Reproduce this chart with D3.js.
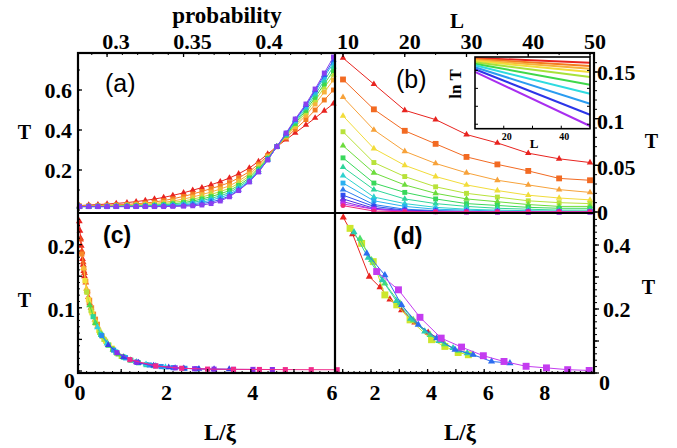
<!DOCTYPE html>
<html>
<head>
<meta charset="utf-8">
<script src="https://cdn.jsdelivr.net/npm/d3@7"></script>
<style>
  body { margin: 0; background: #fff; }
  text { font-family: "Liberation Serif", "Times New Roman", serif; font-weight: bold; fill: #000; }
  .plab { font-family: "Liberation Sans", Arial, sans-serif; }
</style>
</head>
<body>
<div id="chart"></div>
<script>
// ---- data ----
// (a) T vs probability, one series per system size L = 10..50
var probability = [0.282,0.288,0.294,0.300,0.306,0.313,0.319,0.325,0.331,0.337,0.343,0.350,0.356,0.362,
                   0.368,0.374,0.380,0.386,0.393,0.399,0.405,0.411,0.417,0.423,0.430,0.436,0.442,0.448];
var tA = [
  [0.022,0.025,0.027,0.030,0.033,0.037,0.042,0.048,0.055,0.063,0.073,0.086,0.099,0.112,0.126,0.142,0.160,0.181,0.210,0.243,0.280,0.317,0.352,0.386,0.425,0.460,0.496,0.532],
  [0.020,0.021,0.022,0.024,0.026,0.028,0.031,0.035,0.040,0.047,0.056,0.068,0.080,0.093,0.107,0.121,0.137,0.160,0.192,0.230,0.272,0.317,0.360,0.404,0.452,0.500,0.550,0.600],
  [0.019,0.019,0.020,0.021,0.022,0.024,0.026,0.029,0.033,0.038,0.045,0.055,0.065,0.077,0.090,0.105,0.121,0.145,0.180,0.220,0.266,0.317,0.366,0.417,0.474,0.530,0.590,0.650],
  [0.018,0.018,0.019,0.019,0.020,0.021,0.023,0.025,0.028,0.032,0.038,0.045,0.054,0.065,0.078,0.092,0.108,0.133,0.170,0.212,0.262,0.317,0.370,0.425,0.487,0.548,0.612,0.675],
  [0.018,0.018,0.018,0.018,0.019,0.020,0.021,0.022,0.024,0.027,0.031,0.037,0.045,0.055,0.067,0.081,0.097,0.123,0.160,0.205,0.258,0.317,0.374,0.433,0.498,0.563,0.630,0.697],
  [0.017,0.017,0.017,0.018,0.018,0.019,0.019,0.020,0.022,0.024,0.027,0.031,0.038,0.047,0.058,0.071,0.087,0.114,0.152,0.199,0.255,0.317,0.377,0.440,0.508,0.577,0.647,0.717],
  [0.017,0.017,0.017,0.017,0.018,0.018,0.018,0.019,0.020,0.021,0.023,0.026,0.031,0.039,0.049,0.062,0.078,0.106,0.146,0.194,0.252,0.317,0.380,0.447,0.518,0.590,0.664,0.737],
  [0.017,0.017,0.017,0.017,0.017,0.017,0.017,0.018,0.018,0.019,0.020,0.022,0.026,0.032,0.040,0.052,0.070,0.100,0.142,0.191,0.250,0.317,0.382,0.451,0.524,0.598,0.674,0.750],
  [0.017,0.017,0.017,0.017,0.017,0.017,0.017,0.017,0.017,0.017,0.018,0.019,0.021,0.025,0.032,0.045,0.066,0.097,0.140,0.190,0.250,0.317,0.385,0.455,0.530,0.605,0.685,0.765]
];

// (b) T vs L, one series per probability
var sizesL = [10,15,20,25,30,35,40,45,50];
var tB = [
  [0.165,0.137,0.109,0.099,0.083,0.074,0.063,0.057,0.053],
  [0.142,0.110,0.087,0.073,0.059,0.051,0.044,0.036,0.034],
  [0.123,0.088,0.065,0.052,0.042,0.034,0.029,0.024,0.021],
  [0.103,0.068,0.050,0.038,0.029,0.023,0.018,0.015,0.013],
  [0.086,0.053,0.038,0.027,0.020,0.016,0.012,0.010,0.009],
  [0.071,0.042,0.029,0.020,0.014,0.011,0.008,0.006,0.006],
  [0.058,0.031,0.021,0.014,0.009,0.007,0.005,0.004,0.004],
  [0.048,0.024,0.014,0.009,0.006,0.004,0.003,0.002,0.002],
  [0.039,0.016,0.009,0.005,0.003,0.002,0.0014,0.001,0.0007],
  [0.031,0.012,0.006,0.003,0.002,0.001,0.0007,0.0005,0.0004],
  [0.024,0.008,0.003,0.0015,0.0008,0.0005,0.0003,0.0002,0.0001],
  [0.018,0.006,0.002,0.001,0.0005,0.0003,0.0002,0.0001,0.0001],
  [0.014,0.004,0.0015,0.0006,0.0003,0.0002,0.0001,0.0001,0.0001],
  [0.011,0.003,0.001,0.0004,0.0002,0.0001,0.0001,0.0001,0.0001],
  [0.0086,0.003,0.0008,0.0003,0.0001,0.0001,0.0001,0.0001,0.0001],
  [0.0068,0.001,0.0003,0.0001,0.0001,0.0001,0.0001,0.0001,0.0001]
];

// (b) inset: ln T at L = 10 and L = 50
var insetL = [10, 50];
var insetLnT = [
  [-1.61,-2.14],[-1.72,-2.50],[-1.83,-2.81],[-1.95,-3.17],[-2.09,-3.73],
  [-2.25,-4.59],[-2.43,-5.59],[-2.65,-6.71],[-2.87,-7.94],[-3.17,-9.20]
];

// (c) scaling collapse T vs L/xi
var xiC = [
  [0.03,0.045,0.06,0.075,0.09,0.105,0.12,0.135,0.15],
  [0.06,0.09,0.12,0.15,0.18,0.21,0.24,0.27,0.30],
  [0.09,0.135,0.18,0.225,0.27,0.315,0.36,0.405,0.45],
  [0.13,0.195,0.26,0.325,0.39,0.455,0.52,0.585,0.65],
  [0.16,0.24,0.32,0.40,0.48,0.56,0.64,0.72,0.80],
  [0.2,0.3,0.4,0.5,0.6,0.7,0.8,0.9,1.0],
  [0.27,0.405,0.54,0.675,0.81,0.945,1.08,1.215,1.35],
  [0.35,0.525,0.7,0.875,1.05,1.225,1.4,1.575,1.75],
  [0.45,0.675,0.9,1.125,1.35,1.575,1.8,2.025,2.25],
  [0.55,0.825,1.1,1.375,1.65,1.925,2.2,2.475,2.75],
  [0.7,1.05,1.4,1.75,2.1,2.45,2.8,3.15,3.5],
  [0.9,1.35,1.8,2.25,2.7,3.15,3.6,4.05,4.5],
  [1.2,1.8,2.4,3.0,3.6,4.2,4.8,5.4,6.0]
];
var tC = [
  [0.237,0.222,0.210,0.198,0.188,0.177,0.168,0.158,0.150],
  [0.208,0.190,0.172,0.155,0.140,0.127,0.117,0.107,0.100],
  [0.185,0.162,0.142,0.125,0.112,0.100,0.090,0.082,0.074],
  [0.163,0.130,0.110,0.094,0.081,0.071,0.062,0.054,0.048],
  [0.143,0.113,0.092,0.077,0.064,0.055,0.047,0.041,0.036],
  [0.125,0.096,0.076,0.061,0.050,0.041,0.034,0.028,0.023],
  [0.104,0.076,0.057,0.044,0.034,0.026,0.021,0.017,0.014],
  [0.086,0.058,0.041,0.030,0.022,0.017,0.013,0.010,0.0085],
  [0.069,0.044,0.029,0.020,0.014,0.0105,0.008,0.006,0.005],
  [0.056,0.033,0.021,0.0135,0.0095,0.007,0.0053,0.0042,0.0035],
  [0.041,0.022,0.013,0.0085,0.0057,0.0042,0.0034,0.0029,0.0027],
  [0.029,0.014,0.008,0.005,0.0036,0.0029,0.0026,0.0025,0.0023],
  [0.018,0.008,0.0043,0.003,0.0026,0.0024,0.0022,0.0021,0.002]
];

// (d) T vs L/xi, second data set
var xiD = [
  [1.02,1.35,1.94,2.32,2.67,3.08,3.55,4.02,4.5],
  [1.26,1.67,2.08,2.49,2.91,3.38,4.14,4.61,5.08,5.44],
  [1.61,2.02,2.49,3.02,3.5,4.09,4.6,5.1,5.6],
  [1.4,1.9,2.4,2.9,3.4,3.9,4.4,4.9,5.4],
  [1.85,2.49,3.08,3.67,4.32,4.97,5.61,6.26,6.91],
  [2.2,2.97,3.73,4.48,5.2,5.97,6.7,7.48,8.2,8.95,9.71]
];
var tD = [
  [0.486,0.434,0.301,0.268,0.23,0.196,0.158,0.126,0.103],
  [0.452,0.405,0.348,0.244,0.213,0.166,0.104,0.083,0.064,0.057],
  [0.42,0.353,0.28,0.218,0.165,0.119,0.09,0.07,0.058],
  [0.44,0.36,0.29,0.225,0.17,0.13,0.1,0.078,0.062],
  [0.374,0.306,0.213,0.151,0.109,0.073,0.057,0.036,0.031],
  [0.317,0.26,0.174,0.109,0.081,0.054,0.036,0.021,0.016,0.0104,0.008]
];

// tick labels
var probTicks = [0.3, 0.35, 0.4];
var lTicks = [10, 20, 30, 40, 50];
var tTicksA = [0.2, 0.4, 0.6];
var tTicksB = [0, 0.05, 0.1, 0.15];
var tTicksC = [0, 0.1, 0.2];
var tTicksD = [0, 0.2, 0.4];
var xiTicksC = [0, 2, 4, 6];
var xiTicksD = [2, 4, 6, 8];
var insetTicks = [20, 40];

// ---- styles ----
var colorsA = ["#e8231f","#f47b20","#f7b23b","#bde03a","#3fd84a","#2fd3a4","#27b8ee","#2d5ff0","#8a3ff0"];
var shapesA = ["t","s","s","t","s","t","s","t","s"];
var colorsB = ["#e8231f","#f26a22","#f7a23a","#f2dc3a","#b8e23a","#6cdc3c","#38d85a","#2fd69a",
               "#2ed2cf","#2ab0f0","#2c7cf0","#2f4ff0","#4a32e0","#8a2ee8","#c42ee8","#f0287a"];
var shapesB = ["t","s","t","t","s","t","s","t","t","s","t","s","t","s","s","c"];
var colorsIn = ["#e8231f","#f47b20","#f7b23b","#f2dc3a","#a8e23a","#3fd84a","#2edbe0","#2a9cf0","#2c35e8","#a82ef0"];
var colorsC = ["#e8231f","#f0501f","#f78a2a","#f7b83a","#f2e03a","#b8e23a","#4fd84a","#2fd69a",
               "#2ed2e0","#2a8cf0","#3a40e8","#8a2ee8","#f02a8a"];
var shapesC = ["t","t","s","t","s","s","t","s","t","s","t","s","s"];
var colorsD = ["#e8231f","#cde62c","#4fe06a","#2cc9b0","#2c6cf0","#c43cf0"];
var shapesD = ["t","s","t","t","t","s"];

var width = 677, height = 448;
var svg = d3.select("#chart").append("svg")
    .attr("width", width).attr("height", height);

var xA = d3.scaleLinear().domain([0.281, 0.449]).range([78, 335]);
var yA = d3.scaleLinear().domain([-0.015, 0.785]).range([213, 53]);
var xB = d3.scaleLinear().domain([10, 50]).range([343, 590]);
var yB = d3.scaleLinear().domain([0, 0.15]).range([212, 72]);
var xC = d3.scaleLinear().domain([0, 5.95]).range([78, 335]);
var yC = d3.scaleLinear().domain([0, 0.25]).range([371, 213]);
var xD = d3.scaleLinear().domain([0.728, 9.88]).range([335, 594]);
var yD = d3.scaleLinear().domain([0, 0.5]).range([373, 213]);
var xIn = d3.scaleLinear().domain([10, 50]).range([475, 590]);
var yIn = d3.scaleLinear().domain([-1.5, -9.5]).range([57, 128.7]);

var symType = { t: d3.symbolTriangle, s: d3.symbolSquare, c: d3.symbolCircle };

function series(g, xs, ys, xs_, ys_, color, shape, size, lw) {
  var pts = xs.map(function(x, i) { return [xs_(x), ys_(ys[i])]; });
  g.append("path")
    .attr("d", d3.line()(pts))
    .attr("fill", "none")
    .attr("stroke", color)
    .attr("stroke-width", lw || 1);
  var sym = d3.symbol().type(symType[shape]).size(size);
  g.selectAll(null).data(pts).enter().append("path")
    .attr("d", sym)
    .attr("transform", function(d) { return "translate(" + d[0] + "," + d[1] + ")"; })
    .attr("fill", color);
}

// (a)
var gA = svg.append("g");
tA.forEach(function(ys, k) {
  series(gA, probability, ys, xA, yA, colorsA[k], shapesA[k], shapesA[k] == "s" ? 24 : 18);
});

// (b)
var gB = svg.append("g");
tB.forEach(function(ys, k) {
  var sz = shapesB[k] == "s" ? (k == 1 ? 34 : 24) : 18;
  series(gB, sizesL, ys, xB, yB, colorsB[k], shapesB[k], sz);
});

// (b) inset
var gIn = svg.append("g");
gIn.append("rect").attr("x", 475).attr("y", 57).attr("width", 115).attr("height", 71.7)
  .attr("fill", "#fff");
insetLnT.forEach(function(ys, k) {
  gIn.append("path")
    .attr("d", d3.line()(insetL.map(function(x, i) { return [xIn(x), yIn(ys[i])]; })))
    .attr("stroke", colorsIn[k]).attr("stroke-width", 2).attr("fill", "none");
});
gIn.append("rect").attr("x", 475).attr("y", 57).attr("width", 115).attr("height", 71.7)
  .attr("fill", "none").attr("stroke", "#000").attr("stroke-width", 1.6);
[20, 30, 40].forEach(function(v) {
  gIn.append("line").attr("x1", xIn(v)).attr("x2", xIn(v)).attr("y1", 128.7).attr("y2", 125.7)
    .attr("stroke", "#000");
});
[-3, -5, -7, -9].forEach(function(v) {
  gIn.append("line").attr("x1", 475).attr("x2", 478).attr("y1", yIn(v)).attr("y2", yIn(v)).attr("stroke", "#000");
  gIn.append("line").attr("x1", 590).attr("x2", 587).attr("y1", yIn(v)).attr("y2", yIn(v)).attr("stroke", "#000");
});
insetTicks.forEach(function(v) {
  gIn.append("text").attr("x", xIn(v) + 3).attr("y", 140).attr("text-anchor", "middle")
    .style("font-size", "10px").text(v);
});
gIn.append("text").attr("x", 534).attr("y", 148).attr("text-anchor", "middle")
  .style("font-size", "13px").text("L");
gIn.append("text").attr("transform", "translate(461,84) rotate(-90)").attr("text-anchor", "middle")
  .style("font-size", "17px").text("ln T");

// (c)
var gC = svg.append("g");
tC.forEach(function(ys, k) {
  series(gC, xiC[k], ys, xC, yC, colorsC[k], shapesC[k], shapesC[k] == "s" ? 26 : 20);
});

// (d)
var gD = svg.append("g");
tD.forEach(function(ys, k) {
  var sz = shapesD[k] == "s" ? 48 : 22;
  series(gD, xiD[k], ys, xD, yD, colorsD[k], shapesD[k], sz);
});

// ---- frame and ticks ----
var fr = svg.append("g").attr("stroke", "#000").attr("fill", "none");
function tick(x1, y1, x2, y2, w) {
  fr.append("line").attr("x1", x1).attr("y1", y1).attr("x2", x2).attr("y2", y2)
    .attr("stroke-width", w || 1);
}
// top axes
d3.range(0.29, 0.445, 0.01).forEach(function(v) { tick(xA(v), 53, xA(v), 55); });
probTicks.forEach(function(v) { tick(xA(v), 53, xA(v), 57, 1.3); });
d3.range(10, 51, 5).forEach(function(v) { tick(xB(v), 53, xB(v), 55); });
lTicks.forEach(function(v) { tick(xB(v), 53, xB(v), 57, 1.3); });
// left of (a)
d3.range(0, 0.75, 0.1).forEach(function(v) { tick(78, yA(v), 80, yA(v)); });
tTicksA.forEach(function(v) { tick(78, yA(v), 82, yA(v), 1.3); });
// right of (b)
d3.range(0, 0.17, 0.01).forEach(function(v) { tick(594, yB(v), 597, yB(v)); });
tTicksB.forEach(function(v) { tick(594, yB(v), 599, yB(v), 1.3); });
// left of (c)
d3.range(0, 0.25, 0.01).forEach(function(v) { tick(78, yC(v), 80, yC(v)); });
d3.range(0, 0.25, 0.05).forEach(function(v) { tick(78, yC(v), 82, yC(v), 1.3); });
// bottom of (c), (d)
d3.range(0.2, 5.95, 0.2).forEach(function(v) { tick(xC(v), 373, xC(v), 371); });
d3.range(1, 6, 1).forEach(function(v) { tick(xC(v), 373, xC(v), 369, 1.3); });
d3.range(0.8, 9.85, 0.2).forEach(function(v) { tick(xD(v), 373, xD(v), 371); });
d3.range(1, 10, 1).forEach(function(v) { tick(xD(v), 373, xD(v), 369, 1.3); });
// right of (d)
d3.range(0, 0.5, 0.02).forEach(function(v) { tick(594, yD(v), 597, yD(v)); });
d3.range(0, 0.5, 0.1).forEach(function(v) { tick(594, yD(v), 599, yD(v), 1.3); });

fr.append("rect").attr("x", 78).attr("y", 53).attr("width", 516).attr("height", 320)
  .attr("stroke-width", 2.2);
tick(335, 53, 335, 373, 2.2);
tick(78, 213, 594, 213, 2.2);

// ---- text ----
var tx = svg.append("g");
function label(x, y, s, size, anchor, cls) {
  return tx.append("text").attr("x", x).attr("y", y).attr("text-anchor", anchor || "middle")
    .attr("class", cls || null).style("font-size", (size || 22) + "px").text(s);
}
probTicks.forEach(function(v) { label(xA(v) + 9, 49, v); });
lTicks.forEach(function(v) { label(xB(v) + 5, 49, v); });
label(227, 23, "probability", 23);
label(457, 28, "L", 21);

tTicksA.forEach(function(v) { label(72, yA(v) + 7.5, v, 22, "end"); });
label(24.5, 138.5, "T", 20);
tTicksB.forEach(function(v) { label(597, yB(v) + 7.5 + (v > 0 && v < 0.15 ? 2.5 : 0), v, 22, "start"); });
label(651.5, 148, "T", 20);

tTicksC.forEach(function(v) { label(75, yC(v) + 7.5 + (v === 0 ? 9 : 2), v, 22, "end"); });
label(24.5, 307, "T", 20);
xiTicksC.forEach(function(v) { label(Math.min(xC(v) + 2, 332), 400, v); });
xiTicksD.forEach(function(v) { label(xD(v) + 4, 400, v); });
tTicksD.forEach(function(v) { label(v === 0 ? 599 : 603, yD(v) + 7.5 + (v === 0 ? 9 : 0), v, 22, "start"); });
label(648.5, 294, "T", 20);
label(220, 440, "L/\u03be", 23);
label(460, 440, "L/\u03be", 23);

label(105, 92, "(a)", 25, "start", "plab").style("font-weight", "normal");
label(396, 88, "(b)", 25, "start", "plab").style("font-weight", "normal");
label(103, 243, "(c)", 23, "start", "plab");
label(393, 244, "(d)", 23, "start", "plab");
</script>
</body>
</html>
